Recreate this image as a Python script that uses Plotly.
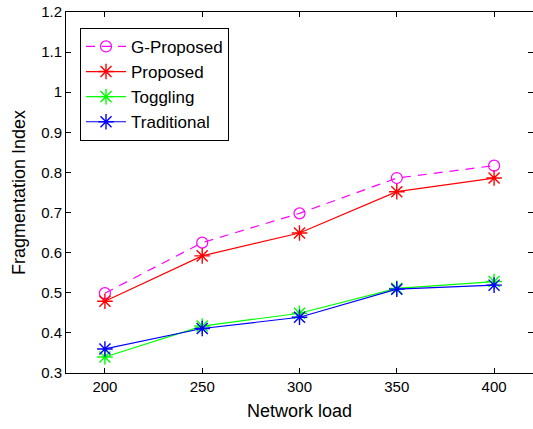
import plotly.graph_objects as go

loads = [200, 250, 300, 350, 400]
g_proposed = [0.499, 0.625, 0.698, 0.786, 0.817]
proposed = [0.479, 0.592, 0.649, 0.752, 0.786]
toggling = [0.340, 0.417, 0.449, 0.511, 0.528]
traditional = [0.360, 0.411, 0.439, 0.509, 0.519]

fig = go.Figure()
fig.add_trace(go.Scatter(x=loads, y=g_proposed, name="G-Proposed", mode="lines+markers",
                         line=dict(color="#ff00ff", width=1.2, dash="9px,7px"),
                         marker=dict(symbol="circle-open", size=11, color="#ff00ff", line=dict(width=1.2))))
fig.add_trace(go.Scatter(x=loads, y=proposed, name="Proposed", mode="lines+markers",
                         line=dict(color="#ff0000", width=1.2),
                         marker=dict(symbol="asterisk-open", size=13, color="#ff0000", line=dict(width=1.4, color="#ff0000"))))
fig.add_trace(go.Scatter(x=loads, y=toggling, name="Toggling", mode="lines+markers",
                         line=dict(color="#00ff00", width=1.2),
                         marker=dict(symbol="asterisk-open", size=13, color="#00ff00", line=dict(width=1.4, color="#00ff00"))))
fig.add_trace(go.Scatter(x=loads, y=traditional, name="Traditional", mode="lines+markers",
                         line=dict(color="#0000ff", width=1.2),
                         marker=dict(symbol="asterisk-open", size=13, color="#0000ff", line=dict(width=1.4, color="#0000ff"))))

axis_common = dict(showgrid=False, zeroline=False, showline=True, linecolor="black", linewidth=1,
                   mirror="ticks", ticks="inside", ticklen=5, tickcolor="black", automargin=False,
                   tickfont=dict(size=15, color="black"))

fig.update_layout(
    width=533, height=429,
    margin=dict(l=66, r=0, t=12, b=56),
    paper_bgcolor="white", plot_bgcolor="white",
    font=dict(family="Liberation Sans, Arial, sans-serif", color="black"),
    xaxis=dict(range=[180, 420], tickvals=loads, ticktext=[str(v) for v in loads],
               title=dict(text="Network load", font=dict(size=18), standoff=10), **axis_common),
    yaxis=dict(range=[0.3, 1.2], tickvals=[0.3, 0.4, 0.5, 0.6, 0.7, 0.8, 0.9, 1.0, 1.1, 1.2],
               ticktext=["0.3", "0.4", "0.5", "0.6", "0.7", "0.8", "0.9", "1", "1.1", "1.2"],
               title=dict(text="Fragmentation Index", font=dict(size=18), standoff=10), **axis_common),
    legend=dict(x=0.03, y=0.956, xanchor="left", yanchor="top", bgcolor="white",
                bordercolor="black", borderwidth=1, font=dict(size=17),
                tracegroupgap=0, itemwidth=40),
    showlegend=True,
)

fig.write_html("out.html", config={"displayModeBar": False},
               post_script="document.body.style.margin='0';document.body.style.overflow='hidden';")
